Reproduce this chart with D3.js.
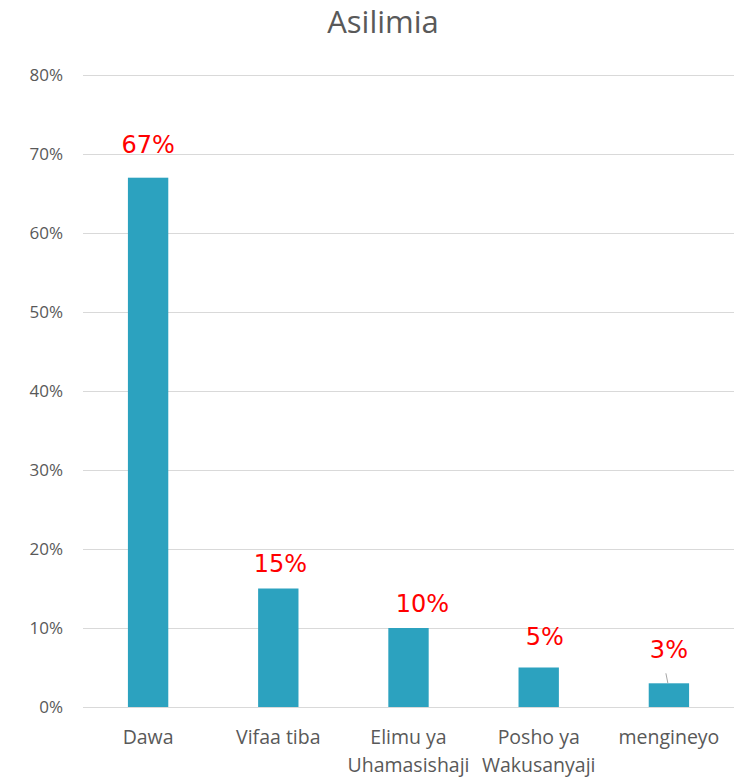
<!DOCTYPE html>
<html>
<head>
<meta charset="utf-8">
<script src="https://cdn.jsdelivr.net/npm/d3@7"></script>
<style>
    body { margin: 0; background: #fff; }
</style>
</head>
<body>
<svg id="chart" width="734" height="778"></svg>
<script>
const categories = [["Dawa"], ["Vifaa tiba"], ["Elimu ya", "Uhamasishaji"], ["Posho ya", "Wakusanyaji"], ["mengineyo"]];
const values = [0.67, 0.15, 0.10, 0.05, 0.03];
const yTicks = [0, 0.1, 0.2, 0.3, 0.4, 0.5, 0.6, 0.7, 0.8];
// hand-moved data labels in the original, pixel nudges [dx, dy]
const labelNudge = [[0, -2], [2, 6], [14, 7], [6, 0], [0, -2]];

function drawChart() {
    const svg = d3.select("#chart");
    const width = 734, height = 778;
    const margin = {top: 75, right: 0, bottom: 71, left: 83};
    const innerW = width - margin.left - margin.right;
    const innerH = height - margin.top - margin.bottom;
    const greyFont = "'Open Sans', sans-serif";

    const x = d3.scaleBand()
        .domain(d3.range(values.length))
        .range([0, innerW])
        .paddingInner(0.69)
        .paddingOuter(0.345);
    const y = d3.scaleLinear().domain([0, 0.8]).range([innerH, 0]);

    const g = svg.append("g")
        .attr("transform", `translate(${margin.left}, ${margin.top})`);

    svg.append("text")
        .attr("x", 383)
        .attr("y", 33)
        .attr("text-anchor", "middle")
        .style("font-family", greyFont)
        .style("font-size", "31px")
        .attr("fill", "#595959")
        .text("Asilimia");

    // grid
    g.append("g")
        .call(d3.axisLeft(y).tickValues(yTicks).tickSize(-innerW).tickFormat(d3.format(".0%")))
        .call((a) => a.select(".domain").remove())
        .call((a) => a.selectAll("line").attr("stroke", "#d9d9d9").attr("shape-rendering", "crispEdges"))
        .call((a) => a.selectAll("text")
            .attr("x", -20)
            .attr("fill", "#595959")
            .style("font-family", greyFont)
            .style("font-size", "17px"));

    g.selectAll(".bar")
        .data(values)
        .join("rect")
        .attr("class", "bar")
        .attr("x", (d, i) => x(i))
        .attr("y", (d) => y(d))
        .attr("width", x.bandwidth())
        .attr("height", (d) => innerH - y(d))
        .attr("fill", "#2ca2bf");

    // leader line for the moved last label
    const last = values.length - 1;
    g.append("line")
        .attr("x1", x(last) + x.bandwidth() / 2 - 3)
        .attr("y1", y(values[last]) - 10)
        .attr("x2", x(last) + x.bandwidth() / 2 - 1)
        .attr("y2", y(values[last]))
        .attr("stroke", "#a6a6a6")
        .attr("stroke-width", 1);

    g.selectAll(".lbl")
        .data(values)
        .join("text")
        .attr("class", "lbl")
        .attr("x", (d, i) => x(i) + x.bandwidth() / 2 + labelNudge[i][0])
        .attr("y", (d, i) => y(d) - 23 + labelNudge[i][1])
        .attr("text-anchor", "middle")
        .attr("fill", "#ff0000")
        .style("font-family", "DejaVu Sans, sans-serif")
        .style("font-size", "24px")
        .text((d) => d3.format(".0%")(d));

    const cat = g.append("g")
        .attr("transform", `translate(0, ${innerH})`)
        .selectAll("text")
        .data(categories)
        .join("text")
        .attr("x", (d, i) => x(i) + x.bandwidth() / 2)
        .attr("y", 37)
        .attr("text-anchor", "middle")
        .attr("fill", "#595959")
        .style("font-family", greyFont)
        .style("font-size", "19.5px");

    cat.selectAll("tspan")
        .data((d) => d)
        .join("tspan")
        .attr("x", function () { return d3.select(this.parentNode).attr("x"); })
        .attr("dy", (d, i) => i === 0 ? 0 : 28)
        .text((d) => d);
}

drawChart();
</script>
</body>
</html>
